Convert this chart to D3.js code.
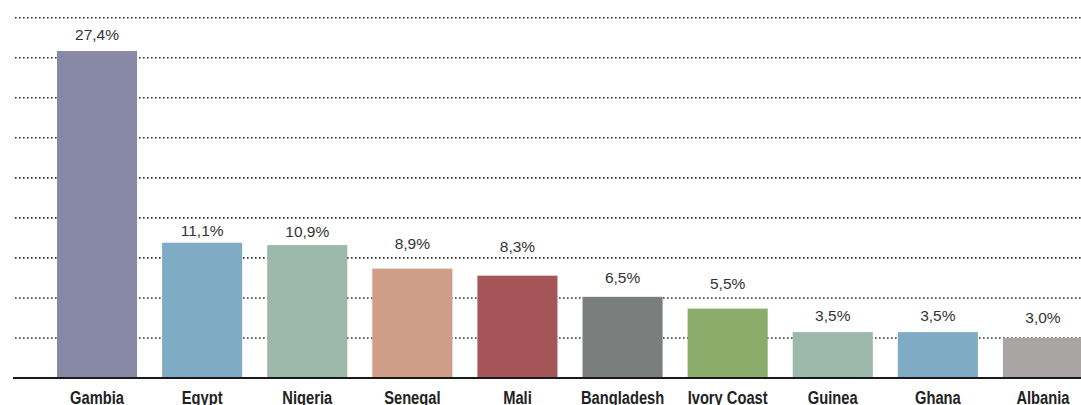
<!DOCTYPE html>
<html lang="en">
<head>
    <meta charset="utf-8">
    <title>Share by country</title>
    <script src="https://d3js.org/d3.v7.min.js"></script>
    <style>
        html, body {
            margin: 0;
            padding: 0;
            background: #fff;
        }
        .grid line {
            stroke: #333;
            stroke-width: 1.6px;
            stroke-dasharray: 1.6, 2.4;
        }
        .value {
            font-family: "Liberation Sans", Arial, sans-serif;
            font-size: 15.5px;
            fill: #333;
            text-anchor: middle;
        }
        .country {
            font-family: "Liberation Sans", Arial, sans-serif;
            font-weight: bold;
            font-size: 17.5px;
            fill: #222;
            text-anchor: middle;
        }
    </style>
</head>
<body>
<script>
    // data
    var countries = ["Gambia", "Egypt", "Nigeria", "Senegal", "Mali", "Bangladesh", "Ivory Coast", "Guinea", "Ghana", "Albania"];
    var shares = [27.4, 11.1, 10.9, 8.9, 8.3, 6.5, 5.5, 3.5, 3.5, 3.0];
    var labels = ["27,4%", "11,1%", "10,9%", "8,9%", "8,3%", "6,5%", "5,5%", "3,5%", "3,5%", "3,0%"];
    var colors = ["#8789a6", "#7facc4", "#9bb8ab", "#cf9e89", "#a55558", "#7a7e7d", "#8aad6c", "#9bb8ab", "#7facc4", "#a9a5a4"];
    var gridLines = d3.range(1, 10);

    var w = 1081, h = 405;
    var baseY = 378;

    var svg = d3.select("body").append("svg")
        .attr("width", w)
        .attr("height", h);

    var x = d3.scaleBand()
        .domain(countries)
        .range([57, 1083])
        .paddingInner(0.238)
        .paddingOuter(0);

    // bars sit on a slightly lifted origin, like the original
    var y = d3.scaleLinear()
        .domain([-0.4, 27.4])
        .range([baseY, 51]);

    var gridY = d3.scaleLinear()
        .domain([0, 9])
        .range([baseY, 17.7]);

    // value label goes in the free space between bar top and the next gridline above
    function labelY(v) {
        var top = y(v);
        var g = gridLines.map(gridY).filter(function(p) { return p < top - 20; });
        var above = d3.max(g);
        return (top + above) / 2 + 5.5;
    }

    svg.append("g").attr("class", "grid")
        .selectAll("line")
        .data(gridLines)
        .enter().append("line")
        .attr("x1", 15)
        .attr("x2", w)
        .attr("y1", function(d) { return gridY(d); })
        .attr("y2", function(d) { return gridY(d); });

    svg.append("g")
        .selectAll("rect")
        .data(countries)
        .enter().append("rect")
        .attr("x", function(d) { return x(d); })
        .attr("width", x.bandwidth())
        .attr("y", function(d, i) { return y(shares[i]); })
        .attr("height", function(d, i) { return baseY - y(shares[i]); })
        .attr("fill", function(d, i) { return colors[i]; });

    svg.append("line")
        .attr("x1", 13)
        .attr("x2", w)
        .attr("y1", baseY)
        .attr("y2", baseY)
        .attr("stroke", "#1a1a1a")
        .attr("stroke-width", 2.2);

    svg.append("g")
        .selectAll("text")
        .data(countries)
        .enter().append("text")
        .attr("class", "value")
        .attr("x", function(d) { return x(d) + x.bandwidth() / 2; })
        .attr("y", function(d, i) { return labelY(shares[i]); })
        .text(function(d, i) { return labels[i]; });

    // condensed look: squeeze the bold labels horizontally
    svg.append("g")
        .selectAll("text")
        .data(countries)
        .enter().append("text")
        .attr("class", "country")
        .attr("transform", function(d) {
            return "translate(" + (x(d) + x.bandwidth() / 2) + ",404) scale(0.84,1)";
        })
        .text(function(d) { return d; });
</script>
</body>
</html>
